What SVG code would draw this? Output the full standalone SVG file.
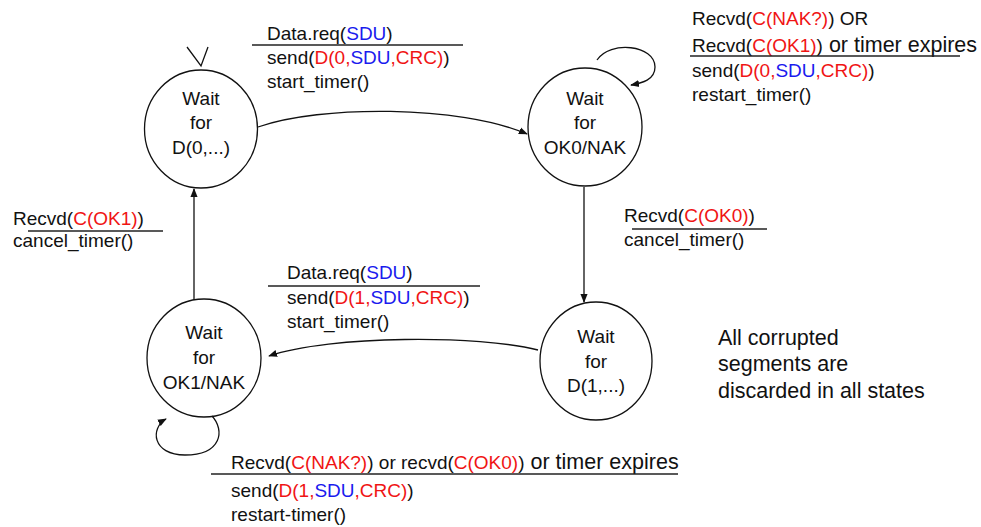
<svg xmlns="http://www.w3.org/2000/svg" width="981" height="527" viewBox="0 0 981 527">
<style>
text{font-family:"Liberation Sans",Arial,Helvetica,sans-serif;font-size:19px;fill:#111}
.st{fill:none;stroke:#111;stroke-width:1.3}
.c{text-anchor:middle}
.r{fill:#f01414}
.b{fill:#1a1aee}
.big{font-size:21.5px}
.note{font-size:21.5px}
.rule{stroke:#222;stroke-width:1.3}
</style>
<defs>
<marker id="ah" viewBox="0 0 10 10" refX="9" refY="5" markerWidth="9" markerHeight="9" markerUnits="userSpaceOnUse" orient="auto">
<path d="M0,1 L10,5 L0,9 Z" fill="#111"/>
</marker>
</defs>
<rect width="981" height="527" fill="#fff"/>
<g id="connectors">
<path class="st" d="M187,47 L201,66 L208,47"/>
<path class="st" d="M258,127 C320,105 460,105 527,134" marker-end="url(#ah)"/>
<path class="st" d="M597,60 C610,40 655,45 655,67 C655,80 642,83 631,85" marker-end="url(#ah)"/>
<path class="st" d="M584,187 L584,302" marker-end="url(#ah)"/>
<path class="st" d="M538,350 C480,335 330,335 269,356" marker-end="url(#ah)"/>
<path class="st" d="M212,416 C225,430 222,455 185,455 C152,455 150,428 166,419" marker-end="url(#ah)"/>
<path class="st" d="M194,300 L194,189" marker-end="url(#ah)"/>
</g>
<g id="state-d0">
<ellipse class="st" cx="201" cy="129" rx="56.5" ry="59"/>
<text class="c" x="201" y="105">Wait</text>
<text class="c" x="201" y="129">for</text>
<text class="c" x="201" y="154">D(0,...)</text>
</g>
<g id="state-ok0">
<ellipse class="st" cx="585" cy="127" rx="57" ry="59"/>
<text class="c" x="585" y="105">Wait</text>
<text class="c" x="585" y="129">for</text>
<text class="c" x="585" y="154">OK0/NAK</text>
</g>
<g id="state-d1">
<ellipse class="st" cx="596" cy="361" rx="56" ry="59"/>
<text class="c" x="596" y="343">Wait</text>
<text class="c" x="596" y="368">for</text>
<text class="c" x="596" y="392">D(1,...)</text>
</g>
<g id="state-ok1">
<ellipse class="st" cx="204" cy="358" rx="57" ry="59"/>
<text class="c" x="204" y="339">Wait</text>
<text class="c" x="204" y="364">for</text>
<text class="c" x="204" y="389">OK1/NAK</text>
</g>
<g id="labels">
<text x="267" y="40">Data.req(<tspan class="b">SDU</tspan>)</text>
<line class="rule" x1="252" y1="45" x2="463" y2="45"/>
<text x="267" y="64">send(<tspan class="r">D(0,</tspan><tspan class="b">SDU</tspan><tspan class="r">,CRC)</tspan>)</text>
<text x="267" y="88">start_timer()</text>

<text x="692" y="25">Recvd(<tspan class="r">C(NAK?)</tspan>) OR</text>
<text x="692" y="52">Recvd(<tspan class="r">C(OK1)</tspan>)<tspan class="big"> or timer expires</tspan></text>
<line class="rule" x1="690" y1="56" x2="960" y2="56"/>
<text x="692" y="77">send(<tspan class="r">D(0,</tspan><tspan class="b">SDU</tspan><tspan class="r">,CRC)</tspan>)</text>
<text x="692" y="101">restart_timer()</text>

<text x="13" y="225">Recvd(<tspan class="r">C(OK1)</tspan>)</text>
<line class="rule" x1="28" y1="231" x2="163" y2="231"/>
<text x="13" y="247">cancel_timer()</text>

<text x="624" y="222">Recvd(<tspan class="r">C(OK0)</tspan>)</text>
<line class="rule" x1="632" y1="229" x2="767" y2="229"/>
<text x="624" y="246">cancel_timer()</text>

<text x="287" y="279">Data.req(<tspan class="b">SDU</tspan>)</text>
<line class="rule" x1="268" y1="286" x2="480" y2="286"/>
<text x="287" y="304">send(<tspan class="r">D(1,</tspan><tspan class="b">SDU</tspan><tspan class="r">,CRC)</tspan>)</text>
<text x="287" y="328">start_timer()</text>

<text x="231" y="469">Recvd(<tspan class="r">C(NAK?)</tspan>) or recvd(<tspan class="r">C(OK0)</tspan>)<tspan class="big"> or timer expires</tspan></text>
<line class="rule" x1="211" y1="474" x2="678" y2="474"/>
<text x="231" y="497">send(<tspan class="r">D(1,</tspan><tspan class="b">SDU</tspan><tspan class="r">,CRC)</tspan>)</text>
<text x="231" y="521">restart-timer()</text>

<text class="note" x="718" y="345">All corrupted</text>
<text class="note" x="718" y="371">segments are</text>
<text class="note" x="718" y="398">discarded in all states</text>
</g>
</svg>
